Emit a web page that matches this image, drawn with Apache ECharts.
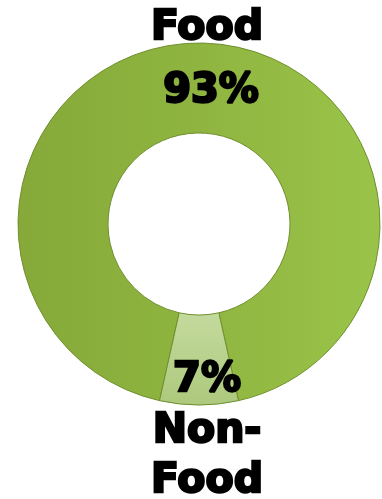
<!DOCTYPE html>
<html>
<head>
<meta charset="utf-8">
<script src="https://cdn.jsdelivr.net/npm/echarts@6/dist/echarts.min.js"></script>
<style>
  html, body { margin: 0; padding: 0; background: #ffffff; }
  #chart { width: 382px; height: 499px; }
</style>
</head>
<body>
<div id="chart"></div>
<script>
// Share of spending: food vs non-food
const categories = ['Food', 'Non-\nFood'];
const shares = [93, 7];

const fills = [
  new echarts.graphic.LinearGradient(0, 0, 1, 0, [
    { offset: 0, color: '#86a939' },
    { offset: 0.5, color: '#8fb540' },
    { offset: 1, color: '#9ac449' }
  ]),
  new echarts.graphic.LinearGradient(0, 0, 0, 1, [
    { offset: 0, color: '#c4da9e' },
    { offset: 1, color: '#adc97c' }
  ])
];

// Centre the small slice at the bottom of the ring
const smallHalfAngle = shares[1] / (shares[0] + shares[1]) * 180;
const startAngle = -90 + 360 - smallHalfAngle;

const labelShift = [-25, 68];

const heavy = {
  fontFamily: 'DejaVu Sans',
  fontWeight: 'bold',
  color: '#000',
  textBorderColor: '#000',
  textBorderWidth: 2.4
};

const chart = echarts.init(document.getElementById('chart'), null, { renderer: 'canvas' });
chart.setOption({
  animation: false,
  series: [{
    type: 'pie',
    center: [199, 224],
    radius: [91, 181],
    startAngle: startAngle,
    clockwise: true,
    silent: true,
    data: categories.map((name, i) => ({
      name: name,
      value: shares[i],
      itemStyle: { color: fills[i] }
    })),
    itemStyle: {
      borderColor: '#6f8f2d',
      borderWidth: 1
    },
    label: Object.assign({
      show: true,
      position: 'inside',
      fontSize: 40,
      formatter: function (p) {
        return p.dataIndex === 0
          ? '{nameTop|' + p.name + '}\n{pctTop|' + p.percent + '%}'
          : '{pct|' + p.percent + '%}\n{name|' + p.name + '}';
      },
      rich: {
        nameTop: Object.assign({ fontSize: 41, lineHeight: 64 }, heavy),
        pctTop: Object.assign({ fontSize: 40, lineHeight: 64, padding: [0, 0, 0, 8] }, heavy),
        name: Object.assign({ fontSize: 41, lineHeight: 50 }, heavy),
        pct: Object.assign({ fontSize: 40, lineHeight: 50 }, heavy)
      }
    }, heavy),
    labelLine: { show: false },
    labelLayout: function (params) {
      return { dx: 8, dy: labelShift[params.dataIndex] };
    }
  }]
});
</script>
</body>
</html>
